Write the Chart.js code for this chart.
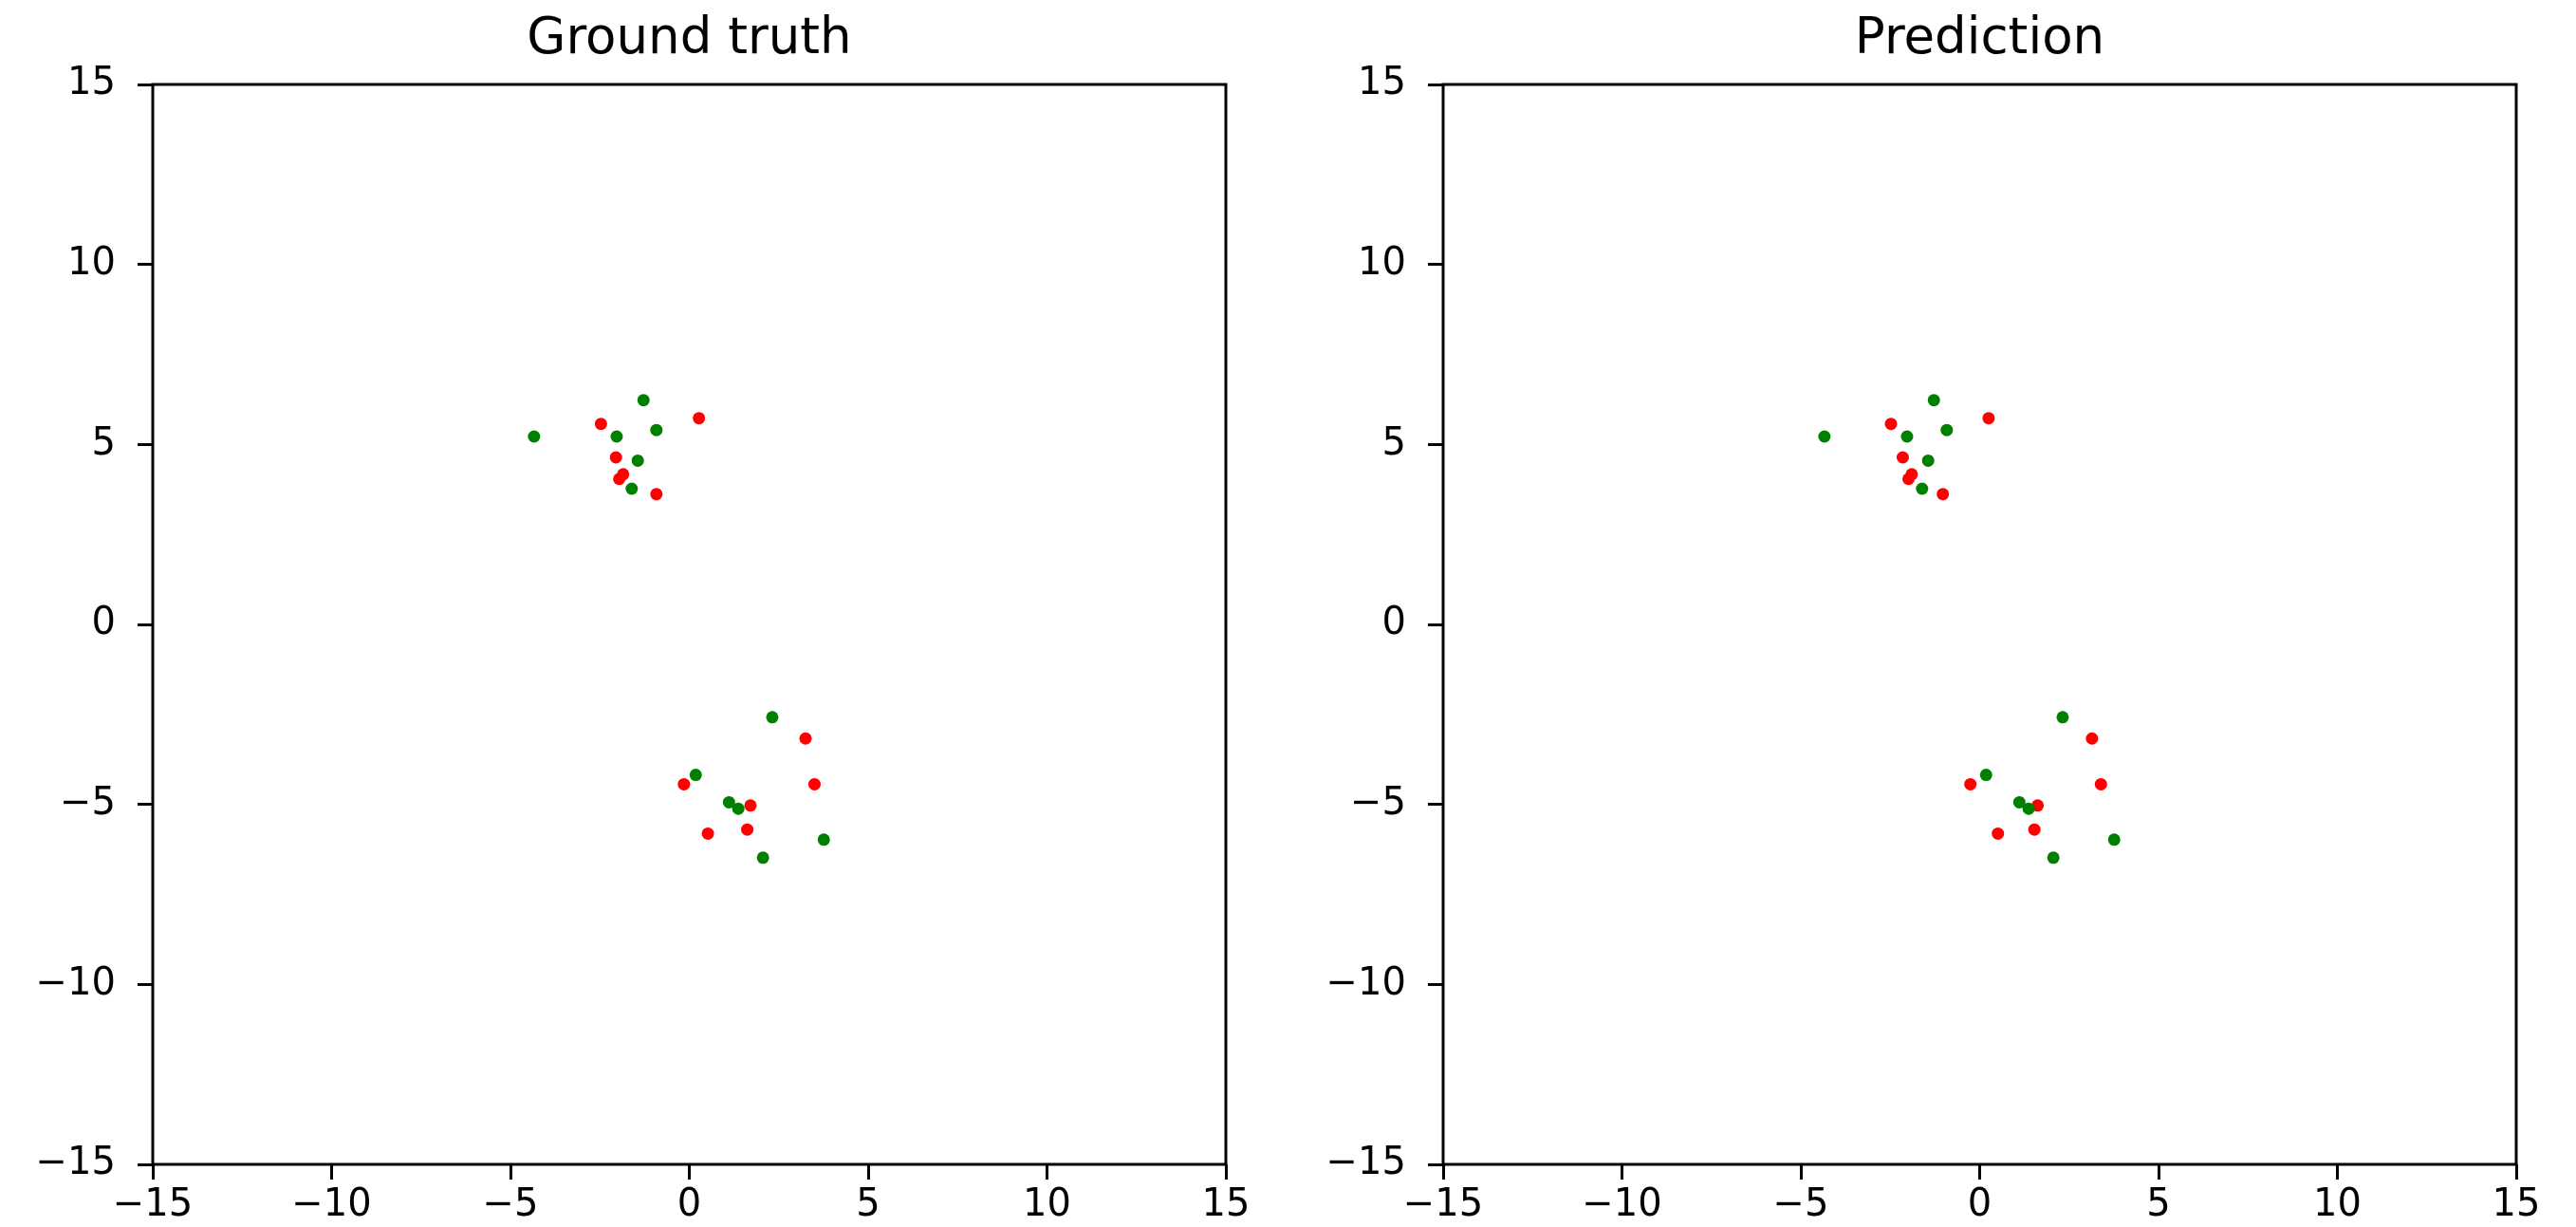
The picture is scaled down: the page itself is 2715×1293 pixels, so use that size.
<!DOCTYPE html>
<html>
<head>
<meta charset="utf-8">
<script src="https://cdn.jsdelivr.net/npm/chart.js@4.4.0/dist/chart.umd.min.js"></script>
<style>
  body { margin: 0; background: #fff; }
  canvas { position: absolute; top: 0; }
  #truth { left: 0; }
  #pred { left: 1360px; }
</style>
</head>
<body>
<canvas id="truth" width="1355" height="1293"></canvas>
<canvas id="pred" width="1355" height="1293"></canvas>
<script>
// green points are the same in both panels
const greenX = [-4.34, -1.28, -2.03, -0.92, -1.44, -1.61, 2.32, 0.18, 1.11, 1.37, 3.76, 2.06];
const greenY = [5.22, 6.23, 5.22, 5.40, 4.55, 3.77, -2.58, -4.18, -4.94, -5.12, -5.98, -6.48];

const truthRedX = [-2.47, 0.27, -2.05, -1.96, -1.85, -0.92, 3.25, -0.15, 3.50, 1.71, 0.52, 1.62];
const truthRedY = [5.57, 5.73, 4.64, 4.04, 4.17, 3.62, -3.17, -4.44, -4.44, -5.03, -5.81, -5.70];

const predRedX = [-2.48, 0.25, -2.15, -1.99, -1.90, -1.03, 3.14, -0.26, 3.39, 1.62, 0.51, 1.53];
const predRedY = [5.57, 5.73, 4.64, 4.04, 4.17, 3.62, -3.17, -4.44, -4.44, -5.03, -5.81, -5.70];

const axisMin = -15;
const axisMax = 15;
const axisStep = 5;

const toPoints = (xs, ys) => xs.map((x, i) => ({ x, y: ys[i] }));
const tickLabel = (v) => (v < 0 ? '\u2212' + Math.abs(v) : String(v));

Chart.defaults.font.family = '"DejaVu Sans", sans-serif';
Chart.defaults.color = '#000';

// box round the plot area, like matplotlib spines
const frame = {
  id: 'frame',
  afterDraw(chart) {
    const { ctx, chartArea: a } = chart;
    ctx.save();
    ctx.strokeStyle = '#000';
    ctx.lineWidth = 3;
    ctx.strokeRect(a.left, a.top, a.right - a.left, a.bottom - a.top);
    ctx.restore();
  },
};

const axis = (pos) => ({
  type: 'linear',
  position: pos,
  min: axisMin,
  max: axisMax,
  ticks: {
    stepSize: axisStep,
    font: { size: 40 },
    color: '#000',
    padding: pos === 'left' ? 23 : 4,
    callback: tickLabel,
  },
  grid: {
    drawOnChartArea: false,
    tickLength: 16,
    tickWidth: 3,
    tickColor: '#000',
  },
  border: { display: false },
  afterFit: (scale) => {
    if (pos === 'left') scale.width = 161;
    else scale.height = 66;
  },
});

const renderScatter = (canvas, title, redX, redY) => new Chart(canvas, {
  type: 'scatter',
  data: {
    datasets: [
      {
        data: toPoints(greenX, greenY),
        backgroundColor: '#008000',
        pointRadius: 6.5,
        borderWidth: 0,
        order: 1,
      },
      {
        data: toPoints(redX, redY),
        backgroundColor: '#ff0000',
        pointRadius: 6.5,
        borderWidth: 0,
        order: 2,
      },
    ],
  },
  options: {
    responsive: false,
    animation: false,
    devicePixelRatio: 1,
    layout: { padding: { left: 0, right: 63, top: 0, bottom: 0 } },
    plugins: {
      legend: { display: false },
      tooltip: { enabled: false },
      title: {
        display: true,
        fullSize: false,
        text: title,
        color: '#000',
        font: { size: 53, weight: 'normal' },
        padding: { top: 10, bottom: 15.4 },
      },
    },
    scales: {
      x: axis('bottom'),
      y: axis('left'),
    },
  },
  plugins: [frame],
});

renderScatter(document.getElementById('truth'), 'Ground truth', truthRedX, truthRedY);
renderScatter(document.getElementById('pred'), 'Prediction', predRedX, predRedY);
</script>
</body>
</html>
